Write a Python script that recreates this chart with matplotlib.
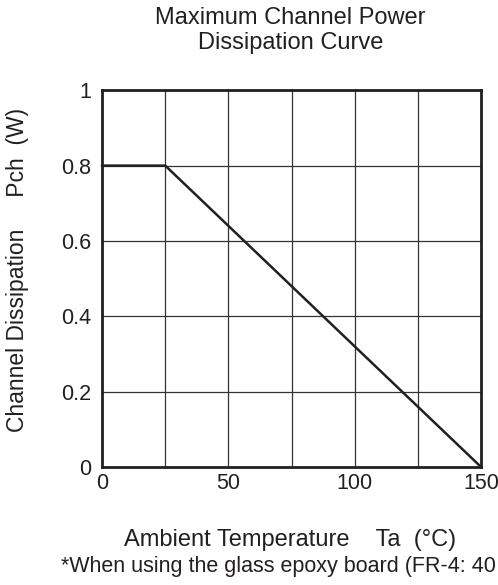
import matplotlib.pyplot as plt

plt.rcParams['font.family'] = ['Liberation Sans', 'DejaVu Sans']

# derating curve: flat to 25 degC, then linear to zero at 150 degC
temp = [0, 25, 150]
power = [0.8, 0.8, 0.0]

x_ticks = [0, 50, 100, 150]
x_grid = [25, 50, 75, 100, 125]
y_ticks = [0, 0.2, 0.4, 0.6, 0.8, 1]
y_tick_labels = ['0', '0.2', '0.4', '0.6', '0.8', '1']

ink = '#231f20'

fig = plt.figure(figsize=(4.98, 5.85), dpi=100)
ax = fig.add_axes([0.205, 0.2017, 0.761, 0.644])

for x in x_grid:
    ax.axvline(x, color='#333333', lw=0.9, zorder=1)
for y in y_ticks[1:-1]:
    ax.axhline(y, color='#333333', lw=0.9, zorder=1)

ax.plot(temp, power, color=ink, lw=1.8, zorder=3, clip_on=False)

ax.set_xlim(0, 150)
ax.set_ylim(0, 1)
ax.set_xticks(x_ticks)
ax.set_yticks(y_ticks)
ax.set_yticklabels(y_tick_labels)
ax.tick_params(length=0, labelsize=15.5, colors=ink)
ax.tick_params(axis='x', pad=4)
ax.tick_params(axis='y', pad=8)
for s in ax.spines.values():
    s.set_linewidth(2)
    s.set_color(ink)

fig.text(0.583, 0.988, 'Maximum Channel Power\nDissipation Curve',
         ha='center', va='top', fontsize=17, color=ink, linespacing=1.15)
fig.text(0.036, 0.538, 'Channel Dissipation     Pch  (W)', rotation=90,
         ha='center', va='center', fontsize=16.5, color=ink)
fig.text(0.583, 0.077, 'Ambient Temperature    Ta  (\u00b0C)',
         ha='center', va='center', fontsize=17, color=ink)
fig.text(0.122, 0.031, '*When using the glass epoxy board (FR-4: 40',
         ha='left', va='center', fontsize=15.5, color=ink)

fig.savefig('out.png', dpi=100)
